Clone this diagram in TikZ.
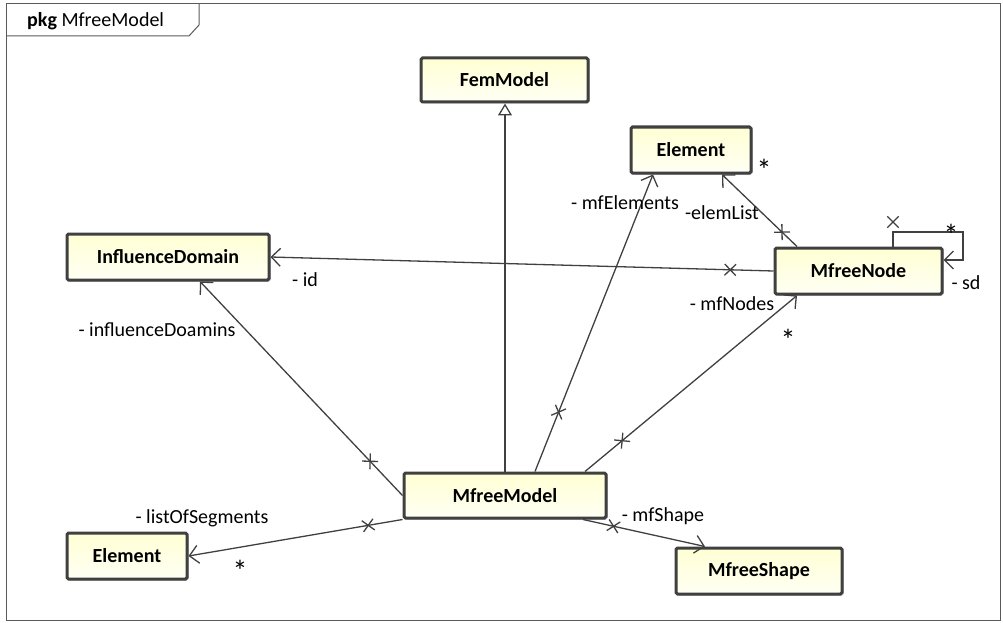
\documentclass[tikz,border=0pt]{standalone}
\usepackage{fontspec}
\setmainfont{Carlito}
\usetikzlibrary{arrows.meta,shapes.misc,shadows}
\definecolor{edgec}{HTML}{404040}
\definecolor{framec}{HTML}{5A5A5A}
\definecolor{boxtop}{HTML}{FFFFD4}
\definecolor{boxbot}{HTML}{FFFFF4}
\begin{document}
\begin{tikzpicture}[x=1pt,y=-1pt,
  cls/.style={draw=edgec, line width=3pt, rounded corners=1.5pt, top color=boxtop, bottom color=boxbot,
    font=\fontsize{20}{22}\selectfont\bfseries, inner sep=0pt,
    drop shadow={shadow xshift=1.5pt,shadow yshift=-1.5pt,opacity=0.25,fill=black}},
  conn/.style={draw=edgec, line width=1.3pt, -{Straight Barb[length=9pt,width=18pt,line width=1.3pt]}},
  gen/.style={draw=edgec, line width=1.3pt, -{Triangle[length=12pt,width=14pt,line width=1.3pt,fill=white]}},
  xmark/.style={draw=edgec, cross out, line width=1.3pt, minimum size=10pt, inner sep=0pt, sloped},
  lbl/.style={font=\fontsize{20}{22}\selectfont, inner sep=0pt, text=black},
  mult/.style={font=\fontsize{30}{30}\selectfont, inner sep=0pt, text=black, yshift=-7pt},
  frame/.style={draw=framec, line width=1pt}]
\useasboundingbox (0,0) rectangle (1003,623);
% frame
\draw[frame] (6,4) rectangle (1000,620);
\draw[frame] (6,36) -- (189,36) -- (199,25) -- (199,4);
\node[lbl, anchor=west] (title) at (27,21) {\textbf{pkg} MfreeModel};
% classes
\node[cls, minimum width=167pt, minimum height=44pt] (fem)   at (504.5,80)  {FemModel};
\node[cls, minimum width=120pt, minimum height=46pt] (eltop) at (691,150)   {Element};
\node[cls, minimum width=167pt, minimum height=46pt] (mnode) at (858.5,271) {MfreeNode};
\node[cls, minimum width=202pt, minimum height=46pt] (inf)   at (168,257)   {InfluenceDomain};
\node[cls, minimum width=202pt, minimum height=45pt] (model) at (505,495.5) {MfreeModel};
\node[cls, minimum width=120pt, minimum height=46pt] (elbot) at (127,556)   {Element};
\node[cls, minimum width=166pt, minimum height=46pt] (shape) at (759,571)   {MfreeShape};
% generalization
\draw[gen] (model.north) -- (model.north |- fem.south);
% associations
\draw[conn] ([xshift=30pt]model.north) -- node[xmark,pos=0.2]{} ([xshift=-38pt]eltop.south);
\draw[conn] ([xshift=80pt]model.north) -- node[xmark,pos=0.175]{} ([xshift=-61.5pt]mnode.south);
\draw[conn] (model.west) -- node[xmark,pos=0.16]{} ([xshift=32pt]inf.south);
\draw[conn] (model.south west) -- node[xmark,pos=0.16]{} (elbot.east);
\draw[conn] ([xshift=78pt]model.south) -- node[xmark,pos=0.25]{} ([xshift=-54pt]shape.north);
\draw[conn] (mnode.west) -- node[xmark,pos=0.086]{} (inf.east);
\draw[conn] ([xshift=-61.5pt]mnode.north) -- node[xmark,pos=0.2]{} ([xshift=31pt]eltop.south);
\coordinate (loopc) at (963,232);
\draw[conn] ([xshift=34.5pt]mnode.north) |- (loopc) |- ([yshift=11pt]mnode.east);
\node[xmark, sloped=false] (loopx) at (893,222) {};
% labels
\node[lbl] (l1) at (625,203) {- mfElements};
\node[lbl] (l2) at (722,213) {-elemList};
\node[lbl] (l3) at (732,304) {- mfNodes};
\node[mult] (l4) at (788,333) {*};
\node[mult] (l5) at (764,163) {*};
\node[lbl] (l6) at (305,280) {- id};
\node[lbl] (l7) at (157,330) {- influenceDoamins};
\node[lbl] (l8) at (202,518) {- listOfSegments};
\node[mult] (l9) at (240,564) {*};
\node[lbl] (l10) at (663,516) {- mfShape};
\node[mult] (l11) at (951,228) {*};
\node[lbl] (l12) at (966,283) {- sd};
\end{tikzpicture}
\end{document}
